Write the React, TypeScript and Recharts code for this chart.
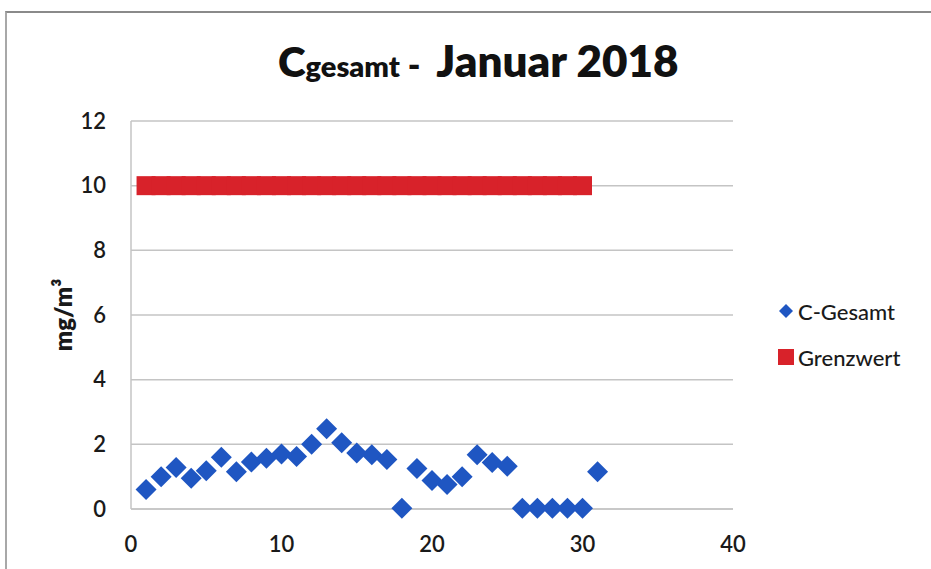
import React from 'react'
import { ScatterChart, Scatter, XAxis, YAxis, CartesianGrid } from 'recharts'

// Tageswerte Januar 2018 (mg/m³)
const days = [1, 2, 3, 4, 5, 6, 7, 8, 9, 10, 11, 12, 13, 14, 15, 16, 17, 18, 19, 20, 21, 22, 23, 24, 25, 26, 27, 28, 29, 30, 31]
const cGesamt = [0.6, 1.0, 1.28, 0.95, 1.18, 1.6, 1.15, 1.45, 1.57, 1.7, 1.62, 2.0, 2.48, 2.05, 1.73, 1.68, 1.53, 0.02, 1.25, 0.88, 0.76, 1.0, 1.68, 1.44, 1.32, 0.02, 0.02, 0.02, 0.02, 0.02, 1.15]
const grenzDays = [1, 2, 3, 4, 5, 6, 7, 8, 9, 10, 11, 12, 13, 14, 15, 16, 17, 18, 19, 20, 21, 22, 23, 24, 25, 26, 27, 28, 29, 30]
const grenzwert = 10
const xTicks = [0, 10, 20, 30, 40]
const yTicks = [0, 2, 4, 6, 8, 10, 12]

const cData = days.map((d, i) => ({ x: d, y: cGesamt[i] }))
const gData = grenzDays.map((d) => ({ x: d, y: grenzwert }))

const BLUE = '#1f56c2'
const RED = '#d8222a'
const FONT = 'Lato, "Liberation Sans", sans-serif'

const Diamond = (props: any) => {
  const { cx, cy } = props
  const r = 10.5
  return <polygon points={`${cx},${cy - r} ${cx + r},${cy} ${cx},${cy + r} ${cx - r},${cy}`} fill={BLUE} />
}

const RedSquare = (props: any) => {
  const { cx, cy } = props
  return <rect x={cx - 9.5} y={cy - 9.5} width={19} height={19} fill={RED} />
}

const YLabel = (props: any) => {
  const vb = props.viewBox
  const cx = 62
  const cy = vb.y + vb.height / 2
  return (
    <text x={cx} y={cy} transform={`rotate(-90 ${cx} ${cy})`} textAnchor="middle" dominantBaseline="central"
      fontFamily={FONT} fontWeight={800} fontSize={24} fill="#1a1a1a">
      mg/m³
    </text>
  )
}

const tickStyle = { fontFamily: FONT, fontSize: 22, fill: '#1a1a1a', fontWeight: 600 }

export default function App() {
  return (
    <div style={{ position: 'absolute', left: 0, top: 0, width: 931, height: 569, background: '#fff', overflow: 'hidden' }}>
      <div style={{ position: 'absolute', left: 5, top: 11, right: 0, bottom: -2, borderTop: '2px solid #8a8a8a', borderLeft: '2px solid #a8a8a8' }} />
      <div style={{ position: 'absolute', left: 278, top: 34, whiteSpace: 'nowrap', fontFamily: FONT, fontWeight: 800, color: '#111' }}>
        <span style={{ fontSize: 42 }}>C</span>
        <span style={{ fontSize: 29 }}>gesamt</span>
        <span style={{ fontSize: 34 }}> -&nbsp;&nbsp;</span>
        <span style={{ fontSize: 44 }}>Januar 2018</span>
      </div>
      <ScatterChart width={931} height={569} margin={{ top: 121, right: 198, bottom: 30, left: 0 }} style={{ position: 'absolute', left: 0, top: 0 }}>
        <CartesianGrid vertical={false} stroke="#c4c4c4" strokeWidth={1.5} />
        <XAxis type="number" dataKey="x" domain={[0, 40]} ticks={xTicks} height={30} axisLine={{ stroke: '#c4c4c4', strokeWidth: 1.5 }} tickLine={false}
          tickSize={0} tickMargin={27} tick={tickStyle} />
        <YAxis type="number" dataKey="y" domain={[0, 12]} ticks={yTicks} width={131} axisLine={{ stroke: '#c4c4c4', strokeWidth: 1.5 }} tickLine={false}
          tickSize={0} tickMargin={25} tick={tickStyle}
          label={{ content: YLabel }} />
        <Scatter name="Grenzwert" data={gData} fill={RED} shape={RedSquare} isAnimationActive={false} />
        <Scatter name="C-Gesamt" data={cData} fill={BLUE} shape={Diamond} isAnimationActive={false} />
      </ScatterChart>
      <div style={{ position: 'absolute', left: 776, top: 297, fontFamily: FONT, fontSize: 22, fontWeight: 500, color: '#1a1a1a' }}>
        <div style={{ display: 'flex', alignItems: 'center', height: 28 }}>
          <svg width={20} height={20} style={{ marginRight: 2 }}>
            <polygon points="10,3 17,10 10,17 3,10" fill={BLUE} />
          </svg>
          <span>C-Gesamt</span>
        </div>
        <div style={{ display: 'flex', alignItems: 'center', height: 28, marginTop: 18 }}>
          <svg width={20} height={20} style={{ marginRight: 2 }}>
            <rect x={2} y={2} width={16} height={16} fill={RED} />
          </svg>
          <span>Grenzwert</span>
        </div>
      </div>
    </div>
  )
}
